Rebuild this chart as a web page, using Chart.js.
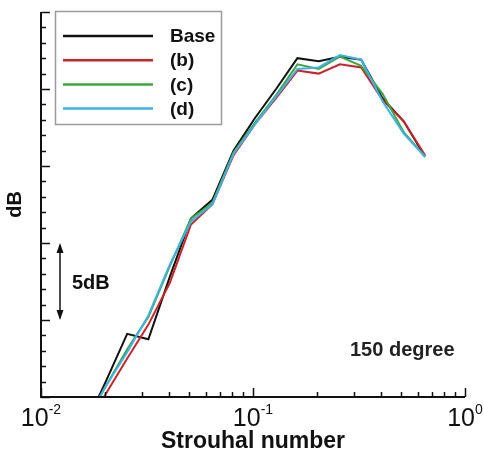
<!DOCTYPE html>
<html>
<head>
<meta charset="utf-8">
<script src="https://cdn.jsdelivr.net/npm/chart.js@4.4.1/dist/chart.umd.min.js"></script>
<style>
  html, body { margin: 0; padding: 0; background: #fff; }
  #wrap { width: 484px; height: 452px; position: relative; }
</style>
</head>
<body>
<div id="wrap"><canvas id="chart"></canvas></div>
<script>
// Strouhal number at each 1/3-octave band centre
const strouhal = [0.016, 0.0202, 0.0255, 0.0321, 0.0405, 0.051, 0.0643, 0.081, 0.102,
                  0.1285, 0.162, 0.204, 0.257, 0.324, 0.408, 0.514, 0.648];

// relative SPL (dB above the axis bottom)
const baseDb = [-2.0, 1.0, 4.1, 3.75, 7.8, 11.6, 12.8, 16.0, 18.1, 20.0, 22.0, 21.8, 22.1, 21.9, 19.4, 17.9, 15.6];
const bDb    = [-2.2, 0.2, 2.5, 4.7, 7.4, 11.2, 12.5, 15.7, 17.7, 19.4, 21.2, 21.0, 21.6, 21.4, 19.3, 17.9, 15.7];
const cDb    = [-1.8, 0.7, 3.1, 5.2, 8.5, 11.6, 12.6, 15.9, 17.8, 19.6, 21.6, 21.3, 22.1, 21.5, 19.7, 17.2, 15.6];
const dDb    = [-1.8, 0.7, 2.9, 5.3, 8.6, 11.4, 12.5, 15.8, 17.7, 19.5, 21.3, 21.4, 22.2, 21.9, 19.2, 17.1, 15.6];

const seriesNames = ['Base', '(b)', '(c)', '(d)'];
const seriesColors = ['#111111', '#cc2229', '#3da63f', '#3cb3e4'];

const xTickExps = [-2, -1, 0];
const yMin = 0, yMax = 25;

const FONT = '"Liberation Sans", Arial, sans-serif';

function toPoints(vals) {
    return strouhal.map((s, i) => ({ x: s, y: vals[i] }));
}

const allSeries = [baseDb, bDb, cDb, dDb];
const datasets = allSeries.map((vals, i) => ({
    label: seriesNames[i],
    data: toPoints(vals),
    borderColor: seriesColors[i],
    borderWidth: 2,
    pointRadius: 0,
    tension: 0,
    fill: false,
    order: 4 - i
}));

// axes ticks (inward), labels, legend and annotations
const decorPlugin = {
    id: 'decor',
    afterDraw(chart) {
        const ctx = chart.ctx;
        const xs = chart.scales.x, ys = chart.scales.y;
        const area = chart.chartArea;
        ctx.save();
        ctx.strokeStyle = '#111';
        ctx.fillStyle = '#111';

        // axis lines
        ctx.lineWidth = 2;
        ctx.beginPath();
        ctx.moveTo(area.left, area.top);
        ctx.lineTo(area.left, area.bottom);
        ctx.lineTo(area.right, area.bottom);
        ctx.stroke();

        // y ticks
        ctx.lineWidth = 1.5;
        for (let v = yMin; v <= yMax; v++) {
            const y = Math.round(ys.getPixelForValue(v)) + 0.5;
            const len = v % 5 === 0 ? 9 : 5;
            ctx.beginPath();
            ctx.moveTo(area.left, y);
            ctx.lineTo(area.left + len, y);
            ctx.stroke();
        }
        // x ticks
        for (let e = -2; e <= 0; e++) {
            for (let m = 1; m <= 9; m++) {
                const v = m * Math.pow(10, e);
                if (v > 1.0001) break;
                const x = Math.round(xs.getPixelForValue(v)) + 0.5;
                const len = m === 1 ? 9 : 5;
                ctx.beginPath();
                ctx.moveTo(x, area.bottom);
                ctx.lineTo(x, area.bottom - len);
                ctx.stroke();
            }
        }

        // x tick labels 10^n
        ctx.textBaseline = 'alphabetic';
        xTickExps.forEach(e => {
            const x = xs.getPixelForValue(Math.pow(10, e));
            ctx.font = '25px ' + FONT;
            const wBase = ctx.measureText('10').width;
            ctx.font = '14px ' + FONT;
            const expText = e < 0 ? '-' + (-e) : String(e);
            const wExp = ctx.measureText(expText).width;
            const left = x - (wBase + wExp) / 2;
            ctx.font = '25px ' + FONT;
            ctx.textAlign = 'left';
            ctx.fillText('10', left, area.bottom + 29);
            ctx.font = '14px ' + FONT;
            ctx.fillText(expText, left + wBase, area.bottom + 17);
        });

        // axis titles
        ctx.font = 'bold 23px ' + FONT;
        ctx.textAlign = 'center';
        ctx.fillText('Strouhal number', (area.left + area.right) / 2, area.bottom + 51);
        ctx.font = 'bold 20px ' + FONT;
        ctx.save();
        ctx.translate(21, ys.getPixelForValue(12.5));
        ctx.rotate(-Math.PI / 2);
        ctx.fillText('dB', 0, 0);
        ctx.restore();

        // 5 dB scale arrow
        const ax = 60;
        const yTop = ys.getPixelForValue(10), yBot = ys.getPixelForValue(5);
        ctx.lineWidth = 1.5;
        ctx.beginPath();
        ctx.moveTo(ax, yTop + 2);
        ctx.lineTo(ax, yBot - 2);
        ctx.stroke();
        [[yTop, 1], [yBot, -1]].forEach(([yy, dir]) => {
            ctx.beginPath();
            ctx.moveTo(ax, yy);
            ctx.lineTo(ax - 3.5, yy + dir * 10);
            ctx.lineTo(ax + 3.5, yy + dir * 10);
            ctx.closePath();
            ctx.fill();
        });
        ctx.font = 'bold 20px ' + FONT;
        ctx.textAlign = 'left';
        ctx.fillText('5dB', 72, (yTop + yBot) / 2 + 7);

        // angle annotation
        ctx.fillStyle = '#222';
        ctx.fillText('150 degree', 350, 356);

        // legend box
        ctx.strokeStyle = '#9a9a9a';
        ctx.lineWidth = 1.5;
        ctx.strokeRect(55.5, 11.5, 166, 113);
        ctx.font = 'bold 19px ' + FONT;
        ctx.textBaseline = 'middle';
        chart.data.datasets.forEach((ds, i) => {
            const y = 36 + i * 24.2;
            ctx.strokeStyle = ds.borderColor;
            ctx.lineWidth = 2.5;
            ctx.beginPath();
            ctx.moveTo(63, y);
            ctx.lineTo(153, y);
            ctx.stroke();
            ctx.fillStyle = '#111';
            ctx.fillText(ds.label, 170, y + 1);
        });
        ctx.restore();
    }
};

new Chart(document.getElementById('chart'), {
    type: 'line',
    data: { datasets: datasets },
    options: {
        responsive: true,
        maintainAspectRatio: false,
        animation: false,
        parsing: true,
        layout: { padding: { left: 41, right: 19, top: 12, bottom: 55 } },
        plugins: { legend: { display: false }, tooltip: { enabled: false } },
        scales: {
            x: {
                type: 'logarithmic',
                min: 0.01,
                max: 1,
                grid: { display: false, drawTicks: false },
                border: { display: false },
                ticks: { display: false }
            },
            y: {
                min: yMin,
                max: yMax,
                grid: { display: false, drawTicks: false },
                border: { display: false },
                ticks: { display: false }
            }
        }
    },
    plugins: [decorPlugin]
});
</script>
</body>
</html>
